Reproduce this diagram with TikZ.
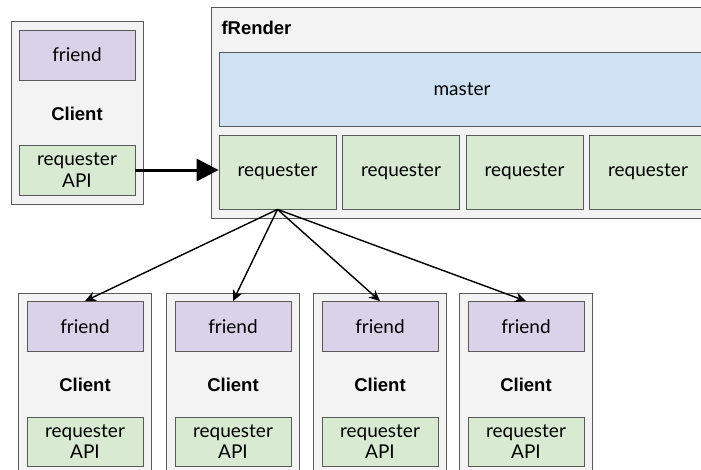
\documentclass[tikz,border=0pt]{standalone}
\usepackage{fontspec}
\setmainfont{Lato}
\newfontfamily\boldsans{Liberation Sans}
\usepackage{xcolor}
\usetikzlibrary{%
	arrows.meta,%
	calc%
}
\definecolor{boxgray}{HTML}{F3F3F3}
\definecolor{edgegray}{HTML}{595959}
\definecolor{friendpurple}{HTML}{D9D2E9}
\definecolor{reqgreen}{HTML}{D9EAD3}
\definecolor{masterblue}{HTML}{CFE2F3}
\tikzset{
	outerbox/.style={draw=edgegray,fill=boxgray,line width=0.8pt,inner sep=0pt},
	innerbox/.style={draw=edgegray,line width=0.8pt,inner sep=0pt,minimum width=116pt,minimum height=50pt,align=center,font=\fontsize{19}{21.5}\selectfont},
	friendbox/.style={innerbox,fill=friendpurple},
	reqbox/.style={innerbox,fill=reqgreen},
	title/.style={font=\boldsans\bfseries\fontsize{18.5}{21}\selectfont},
}
\begin{document}
\begin{tikzpicture}[x=1pt,y=-1pt]
	\useasboundingbox (0,0) rectangle (701,469);
	\clip (0,0) rectangle (701,469);
	\fill[white] (0,0) rectangle (701,469);
	\node[outerbox,minimum width=132pt,minimum height=183pt] (cl) at (77,112.5) {};
	\node[friendbox] (fr) at (77,55) {friend};
	\node[title] (cl-lab) at (77,114) {Client};
	\node[reqbox] (api) at (77,170) {requester\\API};
	\begin{scope}
		\node[outerbox,minimum width=520pt,minimum height=211pt,anchor=north west] (fre) at (211,7) {};
		\node[title,anchor=west] (fre-lab) at (218,28) {fRender};
		\node[innerbox,fill=masterblue,minimum width=510pt,minimum height=74pt,anchor=north west] (mst) at (219,52) {};
		\node[font=\fontsize{19}{21.5}\selectfont] (mst-lab) at (462,89) {master};
		\foreach \X [count=\Z] in {277.5,401,524.5,648}
		{\node[reqbox,minimum width=117pt,minimum height=74pt] (rq-\Z) at (\X,172) {requester};}
	\end{scope}
	\draw[line width=3pt,-{Triangle[length=22pt,width=22pt]}] (api.east) -- (api.east -| rq-1.west);
	\foreach \X [count=\Z] in {85,233,380,526}
	{\node[outerbox,minimum width=133pt,minimum height=187pt] (cb-\Z) at (\X,386.5) {};
		\node[friendbox] (fb-\Z) at (\X,326.5) {friend};
		\node[title] (cb-lab-\Z) at (\X,385) {Client};
		\node[reqbox,minimum height=49pt] (ab-\Z) at (\X,441.5) {requester\\API};
		\draw[line width=1.4pt,-{Stealth[length=11pt,width=10pt]}] (rq-1.south) -- (fb-\Z.north);
	}
\end{tikzpicture}
\end{document}
